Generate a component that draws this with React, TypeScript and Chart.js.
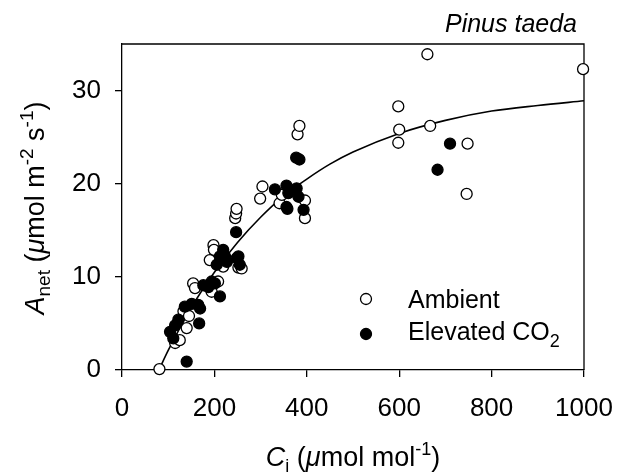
import React, { useEffect, useRef } from "react";
import { Chart, registerables } from "chart.js";
Chart.register(...registerables);

const FONT = "'Liberation Sans', Arial, Helvetica, sans-serif";

const ambientCi = [81, 115, 125, 140, 133, 145, 154, 158, 194, 208, 190, 198, 199, 219, 252, 259, 245, 247, 248, 299, 304, 341, 346, 380, 384, 396, 396, 598, 600, 598, 661, 667, 748, 746, 998];
const ambientA = [0.1, 2.9, 3.2, 4.5, 6.3, 5.8, 9.3, 8.8, 8.4, 9.5, 11.8, 13.4, 12.9, 11.1, 11.0, 10.9, 16.3, 16.8, 17.3, 18.4, 19.7, 17.9, 18.8, 25.3, 26.2, 18.2, 16.3, 28.3, 25.8, 24.4, 33.9, 26.2, 24.3, 18.9, 32.3];

const elevatedCi = [104, 111, 115, 122, 140, 167, 136, 151, 165, 169, 176, 187, 201, 194, 212, 205, 212, 219, 223, 227, 248, 252, 255, 247, 331, 356, 360, 378, 382, 356, 358, 393, 377, 384, 710, 683];
const elevatedA = [4.1, 3.4, 4.8, 5.4, 0.9, 5.0, 6.8, 7.1, 7.0, 6.6, 9.1, 8.9, 9.3, 9.5, 7.9, 11.3, 12.2, 12.9, 12.2, 11.6, 12.0, 12.2, 11.3, 14.8, 19.4, 19.8, 19.0, 19.5, 18.6, 17.5, 17.3, 17.2, 22.8, 22.6, 24.3, 21.5];

const curveCi = [80, 100, 150, 200, 250, 300, 350, 400, 450, 500, 600, 700, 800, 900, 1000];
const curveA = [0, 2.1, 6.7, 10.5, 13.7, 16.4, 18.7, 20.5, 22.1, 23.4, 25.4, 26.8, 27.8, 28.4, 28.9];

const xTicks = [0, 200, 400, 600, 800, 1000];
const yTicks = [0, 10, 20, 30];
const seriesNames = ["Ambient", "Elevated CO₂"];
const panelTitle = "Pinus taeda";

type Seg = { t: string; size: number; italic?: boolean; dy?: number };

function drawRich(ctx: CanvasRenderingContext2D, segs: Seg[], x: number, y: number, align: "left" | "center") {
  const widths = segs.map((s) => {
    ctx.font = `${s.italic ? "italic " : ""}${s.size}px ${FONT}`;
    return ctx.measureText(s.t).width;
  });
  const total = widths.reduce((a, b) => a + b, 0);
  let cx = align === "center" ? x - total / 2 : x;
  ctx.textAlign = "left";
  ctx.textBaseline = "alphabetic";
  ctx.fillStyle = "#000";
  segs.forEach((s, i) => {
    ctx.font = `${s.italic ? "italic " : ""}${s.size}px ${FONT}`;
    ctx.fillText(s.t, cx, y + (s.dy || 0));
    cx += widths[i];
  });
}

const decorPlugin = {
  id: "decor",
  beforeDatasetsDraw(chart: any) {
    const { ctx, chartArea } = chart;
    ctx.save();
    ctx.strokeStyle = "#000";
    ctx.lineWidth = 1.3;
    ctx.beginPath();
    ctx.moveTo(chartArea.left, chartArea.top);
    ctx.lineTo(chartArea.right, chartArea.top);
    ctx.lineTo(chartArea.right, chartArea.bottom);
    ctx.stroke();
    ctx.restore();
  },
  afterDraw(chart: any) {
    const { ctx, chartArea } = chart;
    ctx.save();
    drawRich(
      ctx,
      [
        { t: "C", size: 27, italic: true },
        { t: "i", size: 18, dy: 6 },
        { t: " (", size: 27 },
        { t: "μ", size: 27, italic: true },
        { t: "mol mol", size: 27 },
        { t: "-1", size: 18, dy: -11 },
        { t: ")", size: 27 },
      ],
      (chartArea.left + chartArea.right) / 2,
      466,
      "center"
    );
    ctx.save();
    ctx.translate(44, 208);
    ctx.rotate(-Math.PI / 2);
    drawRich(
      ctx,
      [
        { t: "A", size: 27, italic: true },
        { t: "net", size: 19, dy: 6 },
        { t: " (", size: 27 },
        { t: "μ", size: 27, italic: true },
        { t: "mol m", size: 27 },
        { t: "-2", size: 19, dy: -11 },
        { t: " s", size: 27 },
        { t: "-1", size: 19, dy: -11 },
        { t: ")", size: 27 },
      ],
      0,
      0,
      "center"
    );
    ctx.restore();
    ctx.font = `italic 25px ${FONT}`;
    ctx.fillStyle = "#000";
    ctx.textAlign = "right";
    ctx.textBaseline = "alphabetic";
    ctx.fillText(panelTitle, 577, 32);
    const lx = 366;
    ctx.lineWidth = 1.3;
    ctx.strokeStyle = "#000";
    ctx.beginPath();
    ctx.arc(lx, 299, 5.5, 0, Math.PI * 2);
    ctx.fillStyle = "#fff";
    ctx.fill();
    ctx.stroke();
    ctx.beginPath();
    ctx.arc(lx, 334, 5.5, 0, Math.PI * 2);
    ctx.fillStyle = "#000";
    ctx.fill();
    ctx.stroke();
    drawRich(ctx, [{ t: seriesNames[0], size: 25 }], 408, 308, "left");
    drawRich(
      ctx,
      [
        { t: seriesNames[1].replace("₂", ""), size: 25 },
        { t: "2", size: 18, dy: 7 },
      ],
      408,
      340,
      "left"
    );
    ctx.restore();
  },
};

export default function App() {
  const ref = useRef<HTMLCanvasElement>(null);
  useEffect(() => {
    if (!ref.current) return;
    const toPts = (xs: number[], ys: number[]) => xs.map((x, i) => ({ x, y: ys[i] }));
    const tickFont = { family: FONT, size: 26 };
    const chart = new Chart(ref.current, {
      type: "scatter",
      data: {
        datasets: [
          {
            label: seriesNames[1],
            data: toPts(elevatedCi, elevatedA),
            pointRadius: 5.5,
            pointBackgroundColor: "#000",
            pointBorderColor: "#000",
            pointBorderWidth: 1.3,
            showLine: false,
            clip: false,
          } as any,
          {
            label: seriesNames[0],
            data: toPts(ambientCi, ambientA),
            pointRadius: 5.5,
            pointBackgroundColor: "#fff",
            pointBorderColor: "#000",
            pointBorderWidth: 1.3,
            showLine: false,
            clip: false,
          } as any,
          {
            type: "line",
            label: "fit",
            data: toPts(curveCi, curveA),
            pointRadius: 0,
            borderColor: "#000",
            borderWidth: 1.6,
            showLine: true,
            cubicInterpolationMode: "monotone",
            fill: false,
          } as any,
        ],
      },
      options: {
        animation: false,
        responsive: false,
        maintainAspectRatio: false,
        layout: { padding: { top: 44, right: 34, left: 0, bottom: 0 } },
        plugins: { legend: { display: false }, tooltip: { enabled: false } },
        scales: {
          x: {
            type: "linear",
            min: 0,
            max: 1000,
            afterBuildTicks: (s: any) => {
              s.ticks = xTicks.map((v) => ({ value: v }));
            },
            afterFit: (s: any) => {
              s.height = 104;
              s.paddingLeft = 0;
              s.paddingRight = 0;
            },
            ticks: {
              font: tickFont,
              color: "#000",
              padding: 16,
              maxRotation: 0,
              autoSkip: false,
              callback: (v: any) => String(v),
            },
            grid: { display: true, drawOnChartArea: false, drawTicks: true, tickLength: 7, color: "#000", lineWidth: 1.3 },
            border: { display: true, color: "#000", width: 1.3 },
          },
          y: {
            type: "linear",
            min: 0,
            max: 35,
            afterBuildTicks: (s: any) => {
              s.ticks = yTicks.map((v) => ({ value: v }));
            },
            afterFit: (s: any) => {
              s.width = 122;
              s.paddingTop = 0;
              s.paddingBottom = 0;
            },
            ticks: { font: tickFont, color: "#000", padding: 14, autoSkip: false, callback: (v: any) => String(v) },
            grid: { display: true, drawOnChartArea: false, drawTicks: true, tickLength: 7, color: "#000", lineWidth: 1.3 },
            border: { display: true, color: "#000", width: 1.3 },
          },
        },
      } as any,
      plugins: [decorPlugin],
    });
    return () => chart.destroy();
  }, []);
  return (
    <div style={{ position: "absolute", left: 0, top: 0, width: 618, height: 474, background: "#fff" }}>
      <canvas ref={ref} width={618} height={474} style={{ display: "block" }} />
    </div>
  );
}
